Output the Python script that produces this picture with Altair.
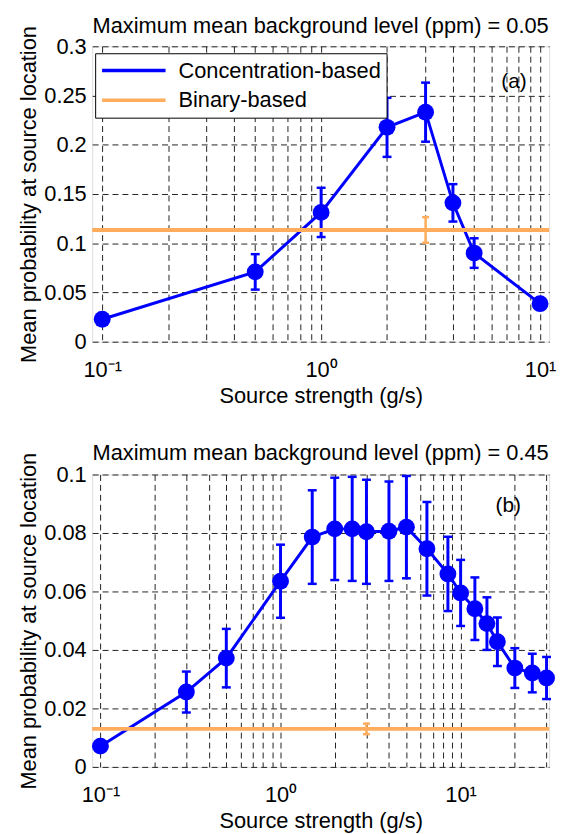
import altair as alt
import pandas as pd

# ---------------- data ----------------
# Panel (a): max mean background level = 0.05 ppm
a_x = [0.1, 0.5, 1, 2, 3, 4, 5, 10]
a_y = [0.0228, 0.0709, 0.1313, 0.2177, 0.2331, 0.1410, 0.0900, 0.0386]
a_err = [0.002, 0.018, 0.025, 0.030, 0.030, 0.019, 0.015, 0.003]
a_bin_y = [0.1135]
a_bin_err = [0.013]
a_bin_x = [3]

# Panel (b): max mean background level = 0.45 ppm
b_x = [0.1, 0.3, 0.5, 1, 1.5, 2, 2.5, 3, 4, 5, 6.5, 8.5, 10, 12, 14, 16, 20, 25, 30]
b_y = [0.0071, 0.0256, 0.0372, 0.0635, 0.0786, 0.0814, 0.0814, 0.0804, 0.0806,
       0.0820, 0.0746, 0.0660, 0.0595, 0.0541, 0.0490, 0.0428, 0.0338, 0.0321, 0.0304]
b_err = [0.0005, 0.0070, 0.0100, 0.0125, 0.0160, 0.0175, 0.0178, 0.0178, 0.0170,
         0.0175, 0.0160, 0.0127, 0.0113, 0.0107, 0.0090, 0.0083, 0.0068, 0.0066, 0.0072]
b_bin_y = [0.0130]
b_bin_err = [0.0018]
b_bin_x = [3]

series_names = ["Concentration-based", "Binary-based"]
titles = ["Maximum mean background level (ppm) = 0.05",
          "Maximum mean background level (ppm) = 0.45"]
panel_tags = ["(a)", "(b)"]

x_domains = [[0.09, 11], [0.09, 31]]
y_domains = [[0, 0.3], [0, 0.1]]
y_ticks = [[0, 0.05, 0.1, 0.15, 0.2, 0.25, 0.3], [0, 0.02, 0.04, 0.06, 0.08, 0.1]]
x_ticks = [[0.1, 0.2, 0.3, 0.4, 0.5, 0.6, 0.7, 0.8, 0.9, 1, 2, 3, 4, 5, 6, 7, 8, 9, 10],
           [0.1, 0.2, 0.3, 0.4, 0.5, 0.6, 0.7, 0.8, 0.9, 1, 2, 3, 4, 5, 6, 7, 8, 9, 10, 20, 30]]
tag_pos = [(7.6, 0.264), (18.4, 0.0892)]

FONT = "Liberation Sans"
BLUE = "#0000FF"
ORANGE = "#FFAD5C"

label_expr = ("datum.value == 0.1 ? '10\u207b\u00b9' : datum.value == 1 ? '10\u2070' : "
              "datum.value == 10 ? '10\u00b9' : ''")


def panel(xs, ys, errs, bx, by, berr, idx, with_legend):
    df = pd.DataFrame({"x": xs, "y": ys})
    df["lo"] = [v - e for v, e in zip(ys, errs)]
    df["hi"] = [v + e for v, e in zip(ys, errs)]
    df["series"] = series_names[0]
    dfb = pd.DataFrame({"x": bx, "y": by})
    dfb["lo"] = [v - e for v, e in zip(by, berr)]
    dfb["hi"] = [v + e for v, e in zip(by, berr)]
    dfb["series"] = series_names[1]

    xsc = alt.Scale(type="log", domain=x_domains[idx], nice=False)
    ysc = alt.Scale(domain=y_domains[idx], nice=False, zero=False)
    xax = alt.Axis(values=x_ticks[idx], labelExpr=label_expr, grid=True, gridDash=[6, 4],
                   gridColor="#222222", gridWidth=1, gridOpacity=1, ticks=False, domain=False,
                   labelFont=FONT, labelFontSize=22, labelColor="black", labelPadding=18,
                   labelOverlap=False, labelFlush=False,
                   title="Source strength (g/s)", titleFont=FONT, titleFontSize=22,
                   titleFontWeight="normal", titleColor="black", titlePadding=5)
    yax = alt.Axis(values=y_ticks[idx], format="~g", grid=True, gridDash=[6, 4],
                   gridColor="#222222", gridWidth=1, gridOpacity=1, ticks=False, domain=False,
                   labelFont=FONT, labelFontSize=22, labelColor="black", labelPadding=6,
                   labelOverlap=False, labelFlush=False,
                   title="Mean probability at source location", titleFont=FONT,
                   titleFontSize=22, titleFontWeight="normal", titleColor="black",
                   titlePadding=3)

    X = alt.X("x:Q", scale=xsc, axis=xax)
    Y = alt.Y("y:Q", scale=ysc, axis=yax)

    base = alt.Chart(df)
    if with_legend:
        color = alt.Color("series:N",
                          scale=alt.Scale(domain=series_names, range=[BLUE, ORANGE]),
                          legend=alt.Legend(orient="none", legendX=3, legendY=7, title=None,
                                            fillColor="white", strokeColor="black",
                                            padding=5, symbolType="stroke",
                                            symbolSize=4096, symbolStrokeWidth=3.5,
                                            labelFont=FONT, labelFontSize=22,
                                            labelColor="black", labelOffset=11,
                                            clipHeight=25, rowPadding=5,
                                            labelLimit=400))
        line = base.mark_line(strokeWidth=3).encode(x=X, y=Y, color=color)
        brule = alt.Chart(dfb).mark_rule(strokeWidth=4).encode(y="y:Q", color=color)
    else:
        line = base.mark_line(strokeWidth=3, color=BLUE).encode(x=X, y=Y)
        brule = alt.Chart(dfb).mark_rule(strokeWidth=4, color=ORANGE).encode(y="y:Q")

    err = base.mark_rule(color=BLUE, strokeWidth=3).encode(x="x:Q", y="lo:Q", y2="hi:Q")
    cap_lo = base.mark_tick(color=BLUE, thickness=2.5, size=9, orient="horizontal",
                            opacity=1).encode(x="x:Q", y="lo:Q")
    cap_hi = base.mark_tick(color=BLUE, thickness=2.5, size=9, orient="horizontal",
                            opacity=1).encode(x="x:Q", y="hi:Q")
    pts = base.mark_circle(size=290, color=BLUE, opacity=1).encode(x="x:Q", y="y:Q")

    berr_r = alt.Chart(dfb).mark_rule(color=ORANGE, strokeWidth=2.5).encode(
        x="x:Q", y="lo:Q", y2="hi:Q")
    bcap_lo = alt.Chart(dfb).mark_tick(color=ORANGE, thickness=2.5, size=7,
                                       orient="horizontal", opacity=1).encode(x="x:Q", y="lo:Q")
    bcap_hi = alt.Chart(dfb).mark_tick(color=ORANGE, thickness=2.5, size=7,
                                       orient="horizontal", opacity=1).encode(x="x:Q", y="hi:Q")

    tag_df = pd.DataFrame({"x": [tag_pos[idx][0]], "y": [tag_pos[idx][1]],
                           "t": [panel_tags[idx]]})
    tag = alt.Chart(tag_df).mark_text(font=FONT, fontSize=21, color="black").encode(
        x="x:Q", y="y:Q", text="t:N")

    ch = alt.layer(line, err, cap_lo, cap_hi, pts, brule, berr_r, bcap_lo, bcap_hi, tag)
    return ch.properties(
        width=461, height=298 if idx == 0 else 295,
        title=alt.TitleParams(titles[idx], font=FONT, fontSize=22, fontWeight="normal",
                              color="black", anchor="middle", offset=-13, frame="group"))


top = panel(a_x, a_y, a_err, a_bin_x, a_bin_y, a_bin_err, 0, True)
bottom = panel(b_x, b_y, b_err, b_bin_x, b_bin_y, b_bin_err, 1, False)

chart = alt.vconcat(top, bottom, spacing=35).resolve_scale(
    x="independent", y="independent", color="independent"
).resolve_legend(color="independent").properties(
    padding={"left": 17, "top": 11, "right": 5, "bottom": 0}
).configure_view(stroke="black", strokeWidth=1.5).configure(background="white")

chart.save("out.html", embed_options={"renderer": "svg", "actions": False})
